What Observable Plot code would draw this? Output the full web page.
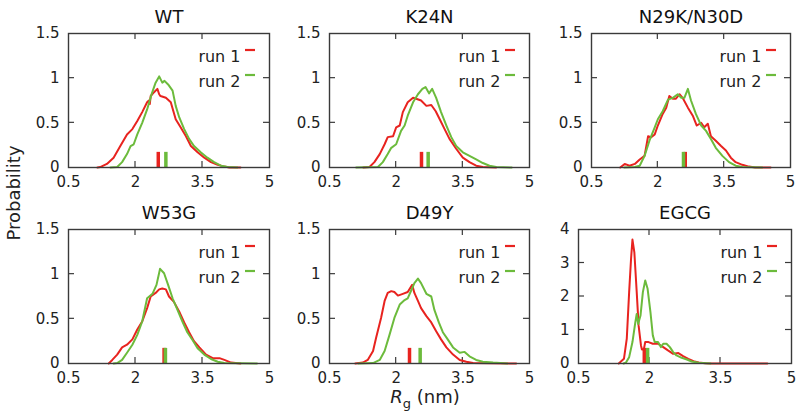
<!DOCTYPE html>
<html><head><meta charset="utf-8">
<script src="https://cdn.jsdelivr.net/npm/d3@7"></script>
<script src="https://cdn.jsdelivr.net/npm/@observablehq/plot@0.6"></script>
<style>
body{margin:0;background:#fff;}
#chart{position:relative;width:800px;height:413px;overflow:hidden;font-family:"DejaVu Sans",sans-serif;color:#222;}
#chart svg{position:absolute;overflow:visible;}
.ylab{position:absolute;left:14px;top:193px;transform:translate(-50%,-50%) rotate(-90deg);font-size:18px;line-height:18px;white-space:nowrap;}
.xlab{position:absolute;left:425px;top:390px;transform:translateX(-50%);font-size:18px;line-height:14px;white-space:nowrap;}
.xlab sub{font-size:13px;font-style:normal;line-height:0;}
</style></head><body><div id="chart"></div>
<script>
// ---- data ----
const panelNames = ["WT", "K24N", "N29K/N30D", "W53G", "D49Y", "EGCG"];
const seriesNames = ["run 1", "run 2"];
const xTicks = [0.5, 2, 3.5, 5];
const yTicksSmall = [0, 0.5, 1, 1.5];
const yTicksEGCG = [0, 1, 2, 3, 4];
const yMax = [1.5, 1.5, 1.5, 1.5, 1.5, 4];
const meanRun1 = [2.51, 2.57, 2.62, 2.64, 2.30, 1.89];
const meanRun2 = [2.68, 2.72, 2.58, 2.67, 2.54, 1.96];

const wtRun1 = [[1.15,0],[1.21,0.005],[1.36,0.04],[1.51,0.11],[1.66,0.24],[1.81,0.37],[1.93,0.43],[2.04,0.52],[2.15,0.62],[2.26,0.73],[2.30,0.75],[2.32,0.71],[2.34,0.80],[2.41,0.84],[2.49,0.88],[2.53,0.82],[2.56,0.80],[2.68,0.78],[2.79,0.73],[2.90,0.54],[3.01,0.45],[3.13,0.35],[3.24,0.24],[3.39,0.17],[3.54,0.11],[3.69,0.06],[3.84,0.03],[3.99,0.01],[4.1,0],[4.35,0]];
const wtRun2 = [[1.44,0],[1.59,0.005],[1.70,0.06],[1.81,0.15],[1.89,0.24],[1.96,0.26],[2.04,0.37],[2.15,0.50],[2.26,0.65],[2.36,0.82],[2.45,0.95],[2.53,1.02],[2.60,0.95],[2.65,0.97],[2.73,0.93],[2.83,0.86],[2.90,0.69],[2.98,0.56],[3.09,0.43],[3.20,0.32],[3.31,0.24],[3.46,0.17],[3.61,0.11],[3.76,0.06],[3.91,0.02],[4.06,0.005],[4.28,0]];
const k24nRun1 = [[1.26,0],[1.40,0.005],[1.51,0.06],[1.63,0.15],[1.74,0.26],[1.81,0.34],[1.93,0.35],[2.0,0.45],[2.08,0.47],[2.15,0.62],[2.26,0.73],[2.38,0.78],[2.45,0.77],[2.56,0.75],[2.68,0.69],[2.79,0.70],[2.89,0.63],[2.98,0.54],[3.09,0.43],[3.20,0.32],[3.35,0.21],[3.50,0.11],[3.65,0.06],[3.80,0.02],[3.95,0.005],[4.25,0]];
const k24nRun2 = [[1.10,0],[1.59,0.005],[1.70,0.06],[1.81,0.15],[1.89,0.22],[2.0,0.26],[2.11,0.41],[2.19,0.47],[2.26,0.58],[2.38,0.73],[2.49,0.82],[2.59,0.88],[2.66,0.90],[2.74,0.83],[2.81,0.88],[2.90,0.78],[3.01,0.62],[3.13,0.47],[3.24,0.34],[3.35,0.24],[3.50,0.17],[3.65,0.13],[3.80,0.09],[3.95,0.05],[4.10,0.02],[4.25,0.005],[4.6,0]];
const n29kRun1 = [[1.15,0],[1.25,0.04],[1.36,0.02],[1.48,0.04],[1.59,0.09],[1.70,0.13],[1.78,0.35],[1.85,0.34],[1.93,0.37],[2.0,0.47],[2.11,0.60],[2.19,0.67],[2.26,0.80],[2.34,0.77],[2.41,0.77],[2.49,0.82],[2.56,0.78],[2.68,0.67],[2.79,0.58],[2.88,0.47],[2.98,0.50],[3.05,0.45],[3.13,0.49],[3.20,0.35],[3.31,0.30],[3.43,0.24],[3.54,0.19],[3.65,0.11],[3.76,0.06],[3.91,0.03],[4.06,0.01],[4.2,0],[4.55,0]];
const n29kRun2 = [[1.24,0],[1.48,0.005],[1.59,0.02],[1.70,0.13],[1.81,0.30],[1.93,0.45],[2.0,0.54],[2.11,0.63],[2.23,0.76],[2.34,0.78],[2.45,0.82],[2.53,0.78],[2.60,0.78],[2.68,0.88],[2.75,0.75],[2.86,0.60],[2.98,0.47],[3.09,0.41],[3.20,0.32],[3.31,0.22],[3.46,0.13],[3.61,0.06],[3.76,0.02],[3.91,0.005],[4.36,0]];
const w53gRun1 = [[1.40,0],[1.48,0.04],[1.59,0.10],[1.70,0.18],[1.81,0.21],[1.93,0.27],[2.04,0.38],[2.15,0.47],[2.26,0.62],[2.34,0.75],[2.45,0.79],[2.53,0.83],[2.60,0.84],[2.68,0.83],[2.75,0.75],[2.86,0.69],[2.98,0.58],[3.09,0.46],[3.20,0.35],[3.31,0.25],[3.43,0.18],[3.58,0.10],[3.73,0.06],[3.88,0.06],[3.99,0.04],[4.14,0.01],[4.35,0]];
const w53gRun2 = [[1.51,0],[1.59,0.005],[1.70,0.04],[1.81,0.12],[1.93,0.21],[2.04,0.32],[2.15,0.47],[2.26,0.73],[2.38,0.78],[2.47,0.88],[2.55,1.06],[2.64,1.01],[2.73,0.88],[2.83,0.73],[2.94,0.60],[3.05,0.47],[3.16,0.35],[3.28,0.26],[3.39,0.17],[3.54,0.10],[3.69,0.05],[3.84,0.02],[3.99,0.005],[4.72,0]];
const d49yRun1 = [[1.08,0],[1.25,0.01],[1.36,0.04],[1.48,0.14],[1.55,0.29],[1.66,0.51],[1.74,0.70],[1.81,0.79],[1.89,0.81],[1.96,0.80],[2.04,0.76],[2.15,0.78],[2.26,0.80],[2.36,0.88],[2.41,0.79],[2.49,0.70],[2.56,0.62],[2.68,0.53],[2.79,0.46],[2.90,0.36],[3.01,0.27],[3.13,0.18],[3.28,0.10],[3.43,0.04],[3.58,0.02],[3.73,0.005],[4.7,0]];
const d49yRun2 = [[1.15,0],[1.48,0.005],[1.63,0.04],[1.74,0.14],[1.85,0.32],[1.96,0.51],[2.08,0.66],[2.19,0.71],[2.26,0.73],[2.34,0.82],[2.41,0.90],[2.49,0.95],[2.56,0.90],[2.68,0.78],[2.79,0.75],[2.86,0.60],[2.96,0.46],[3.05,0.35],[3.16,0.27],[3.28,0.18],[3.43,0.12],[3.54,0.13],[3.65,0.08],[3.80,0.04],[3.95,0.02],[4.18,0.01],[4.5,0]];
const egcgRun1 = [[1.35,0],[1.46,0.14],[1.52,0.74],[1.57,2.13],[1.61,3.12],[1.64,3.70],[1.68,3.32],[1.73,2.13],[1.77,1.13],[1.82,0.54],[1.84,0.42],[1.88,0.42],[1.91,0.64],[1.98,0.64],[2.07,0.59],[2.18,0.59],[2.29,0.49],[2.39,0.39],[2.50,0.29],[2.61,0.31],[2.71,0.22],[2.82,0.14],[2.93,0.07],[3.04,0.03],[3.18,0.01],[3.32,0],[4.49,0]];
const egcgRun2 = [[1.45,0],[1.50,0.02],[1.57,0.19],[1.64,0.64],[1.70,1.23],[1.73,1.48],[1.76,1.18],[1.81,1.43],[1.86,2.13],[1.91,2.48],[1.96,2.23],[2.02,1.53],[2.07,0.84],[2.11,0.64],[2.18,0.64],[2.24,0.49],[2.29,0.59],[2.36,0.59],[2.43,0.49],[2.50,0.34],[2.57,0.24],[2.68,0.17],[2.79,0.12],[2.89,0.06],[3.04,0.02],[3.29,0]];

const run1Series = [wtRun1, k24nRun1, n29kRun1, w53gRun1, d49yRun1, egcgRun1];
const run2Series = [wtRun2, k24nRun2, n29kRun2, w53gRun2, d49yRun2, egcgRun2];

// ---- layout & style ----
const RED = "#e8231f", GREEN = "#6cbb3c", FRAME = "#3a3a3a";
const frames = [ // [left, right, top, bottom] of each plotting frame in page pixels
  [68, 269, 33, 167], [329, 529, 33, 167], [591, 790, 33, 167],
  [68, 269, 229, 363], [329, 529, 229, 363], [578, 791, 229, 363]
];
const mL = 56, mR = 14, mT = 36, mB = 30;
const chart = document.getElementById("chart");

function innerTicks(xt, yt) {
  return (index, scales, values, dim) => {
    const g = d3.create("svg:g").attr("stroke", FRAME).attr("stroke-width", 1.2);
    const L = 6;
    const x0 = dim.marginLeft, x1 = dim.width - dim.marginRight;
    const y0 = dim.marginTop, y1 = dim.height - dim.marginBottom;
    for (const t of xt) {
      const x = scales.x(t);
      g.append("line").attr("x1", x).attr("x2", x).attr("y1", y1).attr("y2", y1 - L);
      g.append("line").attr("x1", x).attr("x2", x).attr("y1", y0).attr("y2", y0 + L);
    }
    for (const t of yt) {
      const y = scales.y(t);
      g.append("line").attr("y1", y).attr("y2", y).attr("x1", x0).attr("x2", x0 + L);
      g.append("line").attr("y1", y).attr("y2", y).attr("x1", x1).attr("x2", x1 - L);
    }
    return g.node();
  };
}
function legendDash(row, color) {
  return (index, scales, values, dim) => {
    const xr = dim.width - dim.marginRight;
    const y = dim.marginTop + 17 + row * 25;
    return d3.create("svg:line").attr("x1", xr - 24).attr("x2", xr - 14)
      .attr("y1", y).attr("y2", y).attr("stroke", color).attr("stroke-width", 2.2).node();
  };
}

panelNames.forEach((name, i) => {
  const [fl, fr, ft, fb] = frames[i];
  const ym = yMax[i];
  const yTicks = i === 5 ? yTicksEGCG : yTicksSmall;
  const plot = Plot.plot({
    width: fr - fl + mL + mR,
    height: fb - ft + mT + mB,
    marginLeft: mL, marginRight: mR, marginTop: mT, marginBottom: mB,
    x: {domain: [0.5, 5], label: null},
    y: {domain: [0, ym], label: null},
    style: {fontFamily: "DejaVu Sans, sans-serif", fontSize: "15px", color: "#222", background: "transparent", overflow: "visible"},
    marks: [
      Plot.axisX({ticks: xTicks, tickSize: 0, tickPadding: 9, tickFormat: d => String(d), label: null}),
      Plot.axisY({ticks: yTicks, tickSize: 0, tickPadding: 9, tickFormat: d => String(d), label: null}),
      innerTicks(xTicks.slice(1, -1), yTicks.slice(1, -1)),
      Plot.line(run1Series[i], {x: d => d[0], y: d => d[1], stroke: RED, strokeWidth: 2}),
      Plot.line(run2Series[i], {x: d => d[0], y: d => d[1], stroke: GREEN, strokeWidth: 2}),
      Plot.ruleX([meanRun1[i]], {x: d => d, y1: 0, y2: ym * 0.113, stroke: RED, strokeWidth: 3.5}),
      Plot.ruleX([meanRun2[i]], {x: d => d, y1: 0, y2: ym * 0.113, stroke: GREEN, strokeWidth: 3.5}),
      Plot.frame({stroke: FRAME, strokeWidth: 1.4}),
      Plot.text([seriesNames[0]], {text: d => d, frameAnchor: "top-right", dx: -29, dy: 17, textAnchor: "end", fill: "#222", fontSize: 16}),
      Plot.text([seriesNames[1]], {text: d => d, frameAnchor: "top-right", dx: -29, dy: 42, textAnchor: "end", fill: "#222", fontSize: 16}),
      legendDash(0, RED),
      legendDash(1, GREEN),
      Plot.text([name], {text: d => d, frameAnchor: "top", dy: -11, lineAnchor: "bottom", fontSize: 18, fill: "#111"})
    ]
  });
  plot.style.left = (fl - mL) + "px";
  plot.style.top = (ft - mT) + "px";
  chart.appendChild(plot);
});

const yl = document.createElement("div");
yl.className = "ylab"; yl.textContent = "Probability";
chart.appendChild(yl);
const xl = document.createElement("div");
xl.className = "xlab"; xl.innerHTML = "<i>R</i><sub>g</sub> (nm)";
chart.appendChild(xl);
</script></body></html>
